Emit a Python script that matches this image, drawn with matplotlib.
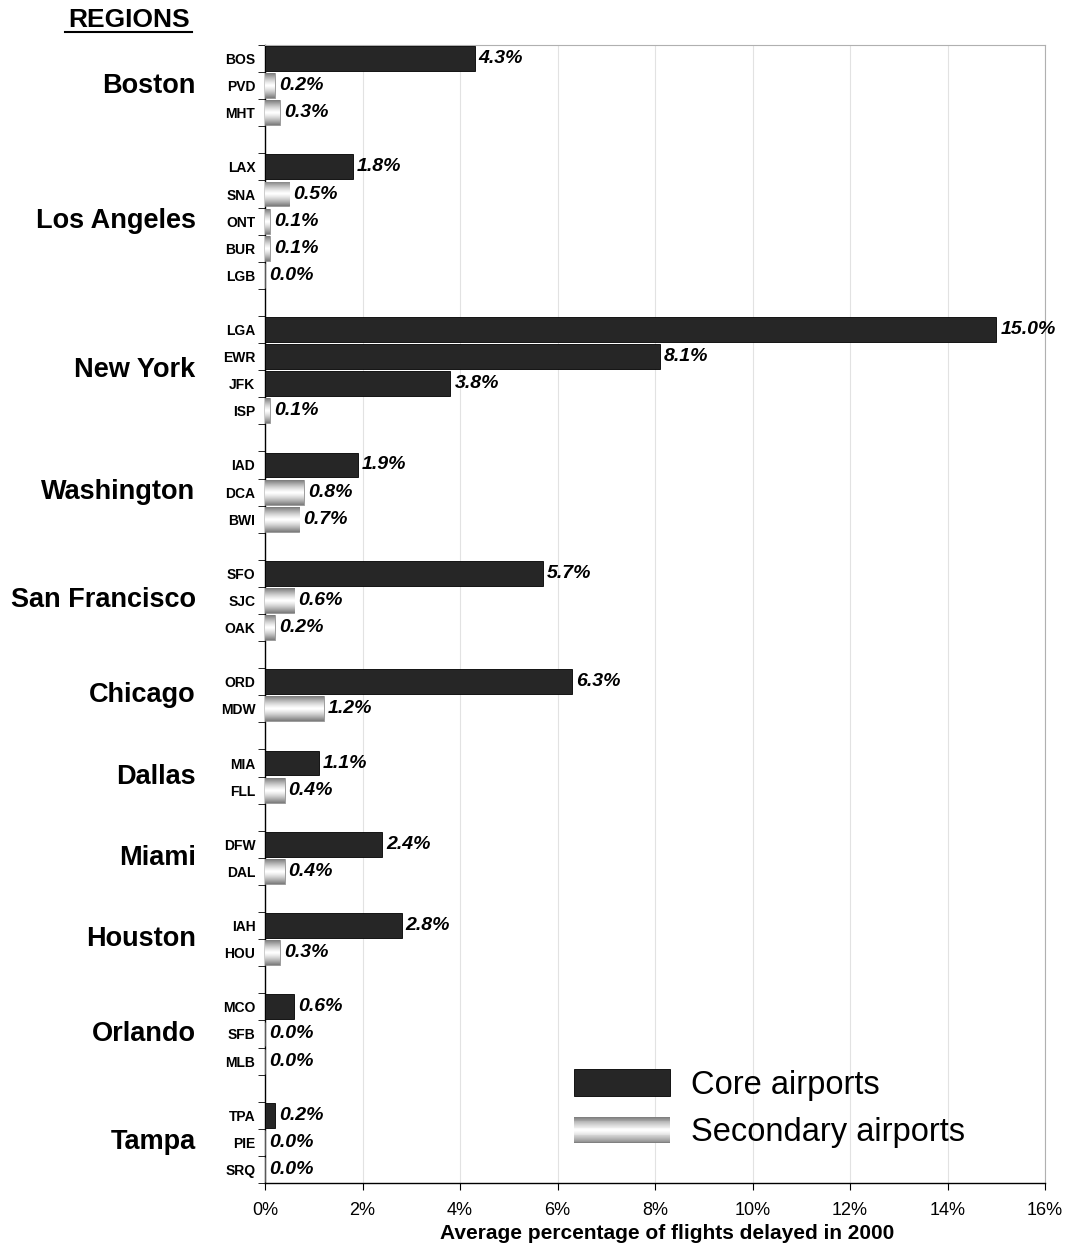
import numpy as np
import matplotlib
matplotlib.use('Agg')
import matplotlib.pyplot as plt
import matplotlib as mpl
from matplotlib.patches import Rectangle
from matplotlib.legend_handler import HandlerBase
from matplotlib.lines import Line2D

mpl.rcParams['font.family'] = ['Liberation Sans', 'DejaVu Sans']

# Delay data per region (percentage of flights delayed in 2000)
regions = ["Boston", "Los Angeles", "New York", "Washington", "San Francisco",
           "Chicago", "Dallas", "Miami", "Houston", "Orlando", "Tampa"]
region_codes = [
    ["BOS", "PVD", "MHT"],
    ["LAX", "SNA", "ONT", "BUR", "LGB"],
    ["LGA", "EWR", "JFK", "ISP"],
    ["IAD", "DCA", "BWI"],
    ["SFO", "SJC", "OAK"],
    ["ORD", "MDW"],
    ["MIA", "FLL"],
    ["DFW", "DAL"],
    ["IAH", "HOU"],
    ["MCO", "SFB", "MLB"],
    ["TPA", "PIE", "SRQ"],
]
region_delays = [
    [4.3, 0.2, 0.3],
    [1.8, 0.5, 0.1, 0.1, 0.0],
    [15.0, 8.1, 3.8, 0.1],
    [1.9, 0.8, 0.7],
    [5.7, 0.6, 0.2],
    [6.3, 1.2],
    [1.1, 0.4],
    [2.4, 0.4],
    [2.8, 0.3],
    [0.6, 0.0, 0.0],
    [0.2, 0.0, 0.0],
]
core_airports = ["BOS", "LAX", "LGA", "EWR", "JFK", "IAD", "SFO", "ORD",
                 "MIA", "DFW", "IAH", "MCO", "TPA"]
x_ticks = [0, 2, 4, 6, 8, 10, 12, 14, 16]


def shade(t):
    """Grey level of the secondary-bar gradient at relative height t."""
    return 0.48 + 0.52 * (1 - np.abs(2 * t - 1) ** 1.3)


class GradientHandler(HandlerBase):
    def create_artists(self, legend, orig_handle, xdescent, ydescent,
                       width, height, fontsize, trans):
        n = 30
        parts = []
        for i in range(n):
            s = float(shade((i + 0.5) / n))
            parts.append(Rectangle((-xdescent, -ydescent + i * height / n),
                                   width, height / n * 1.05,
                                   facecolor=(s, s, s), lw=0, transform=trans))
        return parts


# one empty row between regions
codes, delays, rows, region_rows = [], [], [], []
row = 0
for names, vals in zip(region_codes, region_delays):
    start = row
    for c, v in zip(names, vals):
        codes.append(c)
        delays.append(v)
        rows.append(row)
        row += 1
    region_rows.append((start + row - 1) / 2)
    row += 1
n_rows = row - 1  # number of row slots, gaps included

fig = plt.figure(figsize=(10.68, 12.47), dpi=100)
ax = fig.add_axes([265 / 1068, 64 / 1247, 780 / 1068, 1138 / 1247])

core_mask = np.array([c in core_airports for c in codes])
rows = np.array(rows)
delays = np.array(delays)

bar_h = 0.92
ax.barh(rows[core_mask], delays[core_mask], height=bar_h,
        color='#262626', edgecolor='black', linewidth=0.6, zorder=3)
sec = ax.barh(rows[~core_mask], delays[~core_mask], height=bar_h,
              color='#c8c8c8', edgecolor='#808080', linewidth=0.5, zorder=3)

grad = shade(np.linspace(0, 1, 64))[:, None]
for p in sec:
    if p.get_width() <= 0:
        continue
    x0, y0 = p.get_x(), p.get_y()
    im = ax.imshow(grad, cmap='gray', vmin=0, vmax=1, aspect='auto',
                   extent=(x0, x0 + p.get_width(), y0, y0 + p.get_height()),
                   zorder=3.5, interpolation='bilinear')
    im.set_clip_path(p)

for r, v in zip(rows, delays):
    ax.annotate(f"{v:.1f}%", xy=(v, r), xytext=(3, 0),
                textcoords='offset points', ha='left', va='center',
                fontsize=14, fontweight='bold', fontstyle='italic', zorder=5)

ax.set_xlim(0, 16)
ax.set_ylim(n_rows - 0.5, -0.5)

ax.set_xticks(x_ticks)
ax.set_xticklabels([f"{t}%" for t in x_ticks])
ax.tick_params(axis='x', length=5, direction='out', pad=9, labelsize=13)

ax.set_yticks(rows)
ax.set_yticklabels(codes, fontsize=10, fontweight='bold')
ax.set_yticks(np.arange(-0.5, n_rows, 1.0), minor=True)
ax.tick_params(axis='y', which='major', length=0, pad=7)
ax.tick_params(axis='y', which='minor', length=5, direction='out')

ax.xaxis.grid(True, color='#e2e2e2', linewidth=0.8)
ax.set_axisbelow(True)

for side in ('top', 'right'):
    ax.spines[side].set_color('#b0b0b0')
    ax.spines[side].set_linewidth(0.8)
for side in ('left', 'bottom'):
    ax.spines[side].set_color('black')
    ax.spines[side].set_linewidth(1.0)

ax.set_xlabel("Average percentage of flights delayed in 2000",
              fontsize=15, fontweight='bold')
ax.xaxis.set_label_coords(0.515, -0.036)

for name, r in zip(regions, region_rows):
    ax.text(-0.089, r, name, transform=ax.get_yaxis_transform(),
            ha='right', va='center', fontsize=19.5, fontweight='bold')

fig.text(129 / 1068, 1 - 20 / 1247, "REGIONS", ha='center', va='center',
         fontsize=19, fontweight='bold')
fig.add_artist(Line2D([65 / 1068, 192 / 1068], [1 - 32 / 1247, 1 - 32 / 1247],
                      transform=fig.transFigure, color='black', lw=1.5))

core_handle = Rectangle((0, 0), 1, 1, facecolor='#262626', edgecolor='black', lw=0.6)
sec_handle = Rectangle((0, 0), 1, 1)
ax.legend([core_handle, sec_handle], ["Core airports", "Secondary airports"],
          handler_map={sec_handle: GradientHandler()},
          loc='upper left', bbox_to_anchor=(0.367, 0.12), frameon=False,
          fontsize=23.5, handlelength=2.95, handleheight=0.86, handletextpad=0.64,
          labelspacing=0.5, borderpad=0.2)

fig.savefig("out.png", dpi=100, facecolor='white')
